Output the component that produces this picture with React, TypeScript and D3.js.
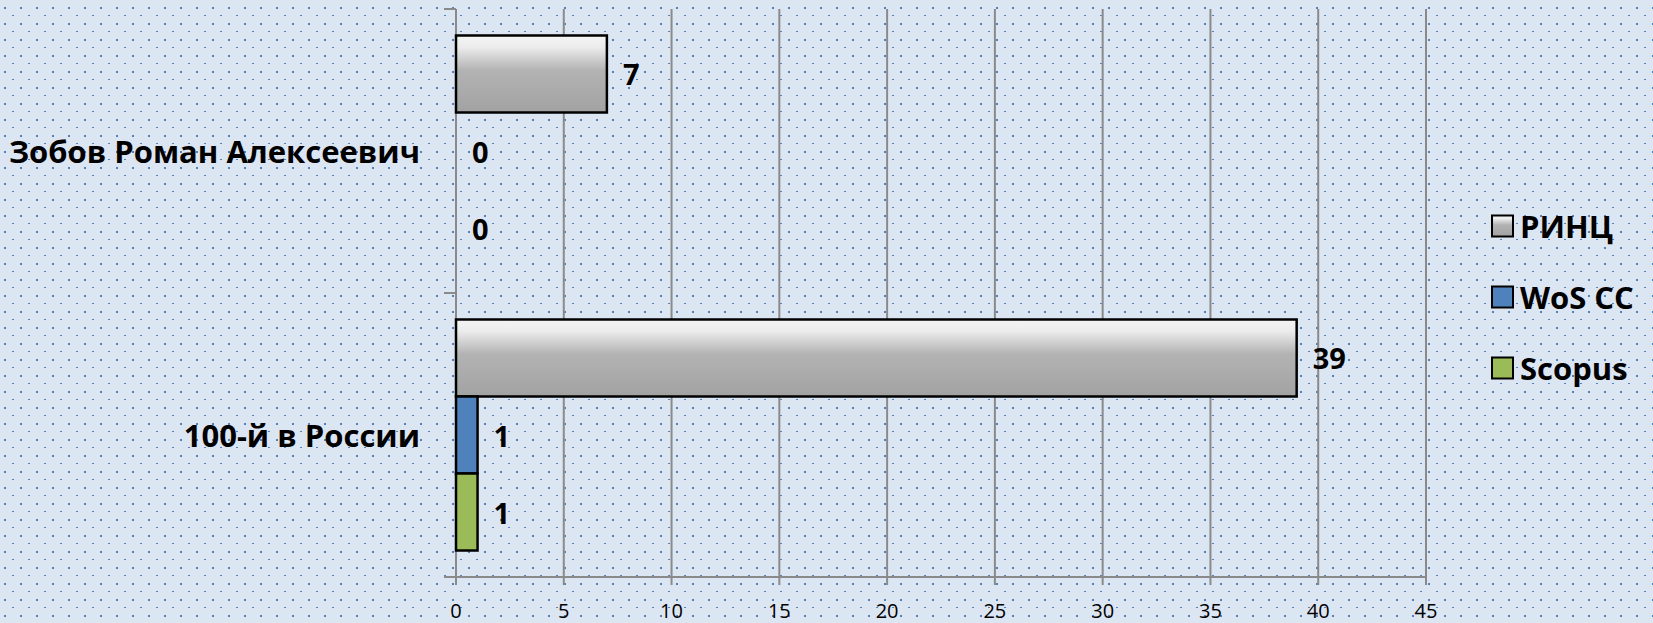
import React from "react";
import * as d3 from "d3";

const categories = ["Зобов Роман Алексеевич", "100-й в России"];
const seriesNames = ["РИНЦ", "WoS CC", "Scopus"];
const rinc = [7, 39];
const wos = [0, 1];
const scopus = [0, 1];
const xTicks = [0, 5, 10, 15, 20, 25, 30, 35, 40, 45];

const W = 1653, H = 623;
const left = 456, right = 1426, top = 9, bottom = 577;
const FONT = "'Open Sans', 'Noto Sans', sans-serif";

export default function App() {
  const values = [rinc, wos, scopus];
  const fills = ["url(#greyGrad)", "#4f81bd", "#9bbb59"];

  const x = d3.scaleLinear().domain([0, 45]).range([left, right]);
  const y = d3.scaleBand().domain(categories).range([top, bottom]).padding(0);
  const ys = d3.scaleBand().domain(seriesNames).range([0, y.bandwidth()]).paddingInner(0).paddingOuter(0.344);

  return (
    <svg width={W} height={H} style={{ position: "absolute", left: 0, top: 0 }} fontFamily={FONT}>
      <defs>
        <pattern id="dots" width={16} height={16} patternUnits="userSpaceOnUse">
          <rect width={16} height={16} fill="#dce6f2" />
          <rect x={4} y={7} width={2} height={2} fill="#4f81bd" />
          <rect x={12} y={15} width={2} height={2} fill="#4f81bd" />
        </pattern>
        <linearGradient id="greyGrad" x1="0" y1="0" x2="0" y2="1">
          <stop offset="0" stopColor="#f4f4f4" />
          <stop offset="0.15" stopColor="#ececec" />
          <stop offset="0.45" stopColor="#b3b3b3" />
          <stop offset="1" stopColor="#a2a2a2" />
        </linearGradient>
      </defs>
      <rect width={W} height={H} fill="url(#dots)" />

      {/* vertical gridlines */}
      {xTicks.map(t => (
        <line key={"g" + t} x1={x(t)} x2={x(t)} y1={top} y2={bottom + 8} stroke="#8a8a8a" strokeWidth={2} />
      ))}
      {/* x axis */}
      <line x1={left - 12} x2={right} y1={bottom} y2={bottom} stroke="#8a8a8a" strokeWidth={2} />
      {xTicks.map(t => (
        <text key={"t" + t} x={x(t)} y={610} textAnchor="middle" dominantBaseline="central" fontSize={20} fill="#000">
          {t}
        </text>
      ))}
      {/* y axis */}
      <line x1={left} x2={left} y1={top} y2={bottom} stroke="#8a8a8a" strokeWidth={2} />
      {[top, y(categories[1])!, bottom].map((v, i) => (
        <line key={"yt" + i} x1={left - 12} x2={left} y1={v} y2={v} stroke="#8a8a8a" strokeWidth={2} />
      ))}

      {categories.map((c, ci) => (
        <g key={c} transform={`translate(0,${y(c)})`}>
          <text x={420} y={y.bandwidth() / 2} textAnchor="end" dominantBaseline="central" fontSize={31} fontWeight="bold" fill="#000">
            {c}
          </text>
          {seriesNames.map((s, si) => {
            const v = values[si][ci];
            const by = ys(s)!;
            return (
              <g key={s}>
                {v > 0 && (
                  <rect x={x(0)} y={by} width={x(v) - x(0)} height={ys.bandwidth()} fill={fills[si]} stroke="#000" strokeWidth={2.5} />
                )}
                <text x={x(v) + 16} y={by + ys.bandwidth() / 2} dominantBaseline="central" fontSize={29} fontWeight="bold" fill="#000">
                  {v}
                </text>
              </g>
            );
          })}
        </g>
      ))}

      {/* legend */}
      {seriesNames.map((s, i) => (
        <g key={"l" + s} transform={`translate(1492,${226 + i * 71})`}>
          <rect x={0} y={-10.5} width={21} height={21} fill={fills[i]} stroke="#000" strokeWidth={2} />
          <text x={28} y={0} dominantBaseline="central" fontSize={31} fontWeight="bold" fill="#000">
            {s}
          </text>
        </g>
      ))}
    </svg>
  );
}
